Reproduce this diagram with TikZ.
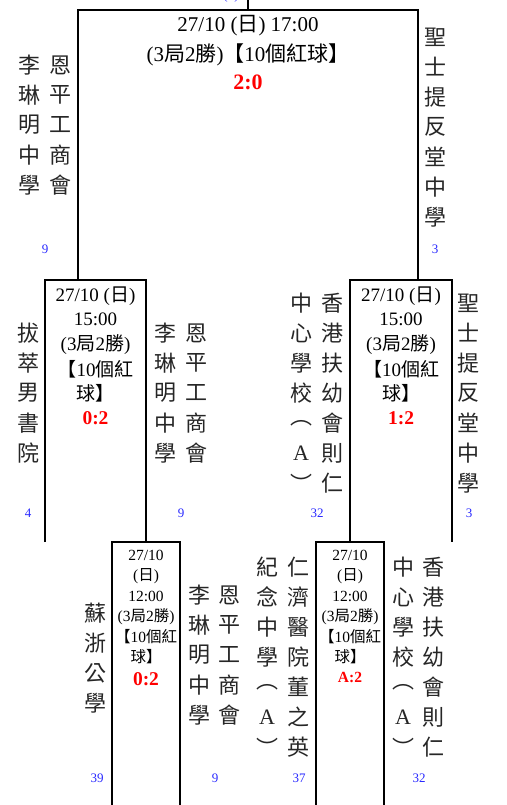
\documentclass[tikz,border=0pt]{standalone}
\usepackage{fontspec}
\setmainfont{Liberation Serif}
\newfontfamily\zh{Noto Sans CJK TC}
\definecolor{numblue}{RGB}{40,40,255}
\definecolor{scorered}{RGB}{255,0,0}
\tikzset{
  bline/.style={line width=2.2pt},
  vch/.style={inner sep=0pt, anchor=center, text=black!85, font=\zh\fontsize{22}{22}\selectfont},
  seed/.style={inner sep=0pt, anchor=center, text=numblue, font=\fontsize{13}{13}\selectfont},
  topinfo/.style={inner sep=0pt, anchor=base, font=\fontsize{21}{21}\selectfont},
  midinfo/.style={inner sep=0pt, anchor=base, font=\fontsize{19}{19}\selectfont},
  lowinfo/.style={inner sep=0pt, anchor=base, font=\fontsize{15.5}{15.5}\selectfont},
  topscore/.style={inner sep=0pt, anchor=base, text=scorered, font=\bfseries\fontsize{22}{22}\selectfont},
  midscore/.style={inner sep=0pt, anchor=base, text=scorered, font=\bfseries\fontsize{19.5}{19.5}\selectfont},
  lowscore/.style={inner sep=0pt, anchor=base, text=scorered, font=\bfseries\fontsize{19.5}{19.5}\selectfont},
  smallscore/.style={inner sep=0pt, anchor=base, text=scorered, font=\bfseries\fontsize{15.5}{15.5}\selectfont},
}
\newcommand\vtext[4]{%
  \foreach \ch [count=\i from 0] in {#4} {\node[vch] (#1-\i) at (#2,#3+30*\i) {\ch};}}
\begin{document}
\begin{tikzpicture}[x=1pt,y=-1pt]
\useasboundingbox (0,0) rectangle (506,805);
% bracket corners
\coordinate (f-stem) at (248,-3);
\coordinate (f-mid) at (248,10);
\coordinate (f-l) at (78,10);
\coordinate (f-r) at (418,10);
\coordinate (f-lb) at (78,280);
\coordinate (f-rb) at (418,280);
\coordinate (s1-l) at (45,280);
\coordinate (s1-r) at (146,280);
\coordinate (s1-lb) at (45,542);
\coordinate (s1-rb) at (146,542);
\coordinate (s2-l) at (350,280);
\coordinate (s2-r) at (452,280);
\coordinate (s2-lb) at (350,542);
\coordinate (s2-rb) at (452,542);
\coordinate (q1-l) at (112,542);
\coordinate (q1-r) at (180,542);
\coordinate (q1-lb) at (112,808);
\coordinate (q1-rb) at (180,808);
\coordinate (q2-l) at (316,542);
\coordinate (q2-r) at (384,542);
\coordinate (q2-lb) at (316,808);
\coordinate (q2-rb) at (384,808);
% bracket lines
\draw[bline] (f-mid) -- (f-stem);
\draw[bline] (f-lb) -- (f-l) -- (f-r) -- (f-rb);
\draw[bline] (s1-lb) -- (s1-l) -- (s1-r) -- (s1-rb);
\draw[bline] (s2-lb) -- (s2-l) -- (s2-r) -- (s2-rb);
\draw[bline] (q1-lb) -- (q1-l) -- (q1-r) -- (q1-rb);
\draw[bline] (q2-lb) -- (q2-l) -- (q2-r) -- (q2-rb);
% partially visible seed at top (cut off in the reference too)
\node[seed, anchor=base] (f-seed) at (231,0) {(1)};
% final box text
\node[topinfo] (f-date) at (248,32) {27/10 ({\zh 日}) 17:00};
\node[topinfo] (f-fmt) at (248,62) {(3{\zh 局}2{\zh 勝}){\zh 【}10{\zh 個紅球】}};
\node[topscore] (f-score) at (248,90) {2:0};
% semi-final left
\node[midinfo] (s1-date) at (95.5,301) {27/10 ({\zh 日})};
\node[midinfo] (s1-time) at (95.5,325) {15:00};
\node[midinfo] (s1-fmt) at (95.5,350) {(3{\zh 局}2{\zh 勝})};
\node[midinfo] (s1-ball) at (95.5,376) {{\zh 【}10{\zh 個紅}};
\node[midinfo] (s1-ball2) at (95.5,400) {{\zh 球】}};
\node[midscore] (s1-score) at (95.5,424) {0:2};
% semi-final right
\node[midinfo] (s2-date) at (401,301) {27/10 ({\zh 日})};
\node[midinfo] (s2-time) at (401,325) {15:00};
\node[midinfo] (s2-fmt) at (401,350) {(3{\zh 局}2{\zh 勝})};
\node[midinfo] (s2-ball) at (401,376) {{\zh 【}10{\zh 個紅}};
\node[midinfo] (s2-ball2) at (401,400) {{\zh 球】}};
\node[midscore] (s2-score) at (401,424) {1:2};
% quarter left
\node[lowinfo] (q1-date) at (146,560) {27/10};
\node[lowinfo] (q1-day) at (146,580.5) {({\zh 日})};
\node[lowinfo] (q1-time) at (146,601) {12:00};
\node[lowinfo] (q1-fmt) at (146,621.5) {(3{\zh 局}2{\zh 勝})};
\node[lowinfo] (q1-ball) at (146,642) {{\zh 【}10{\zh 個紅}};
\node[lowinfo] (q1-ball2) at (146,662.5) {{\zh 球】}};
\node[lowscore] (q1-score) at (146,685) {0:2};
% quarter right
\node[lowinfo] (q2-date) at (350,560) {27/10};
\node[lowinfo] (q2-day) at (350,580.5) {({\zh 日})};
\node[lowinfo] (q2-time) at (350,601) {12:00};
\node[lowinfo] (q2-fmt) at (350,621.5) {(3{\zh 局}2{\zh 勝})};
\node[lowinfo] (q2-ball) at (350,642) {{\zh 【}10{\zh 個紅}};
\node[lowinfo] (q2-ball2) at (350,662.5) {{\zh 球】}};
\node[smallscore] (q2-score) at (350,682) {A:2};
% team names (vertical)
\vtext{fa}{60}{65}{恩,平,工,商,會}
\vtext{fb}{29}{65}{李,琳,明,中,學}
\vtext{fc}{435}{37}{聖,士,提,反,堂,中,學}
\vtext{sa}{28}{333}{拔,萃,男,書,院}
\vtext{sb}{196}{333}{恩,平,工,商,會}
\vtext{sc}{165}{333}{李,琳,明,中,學}
\vtext{sd}{332}{303}{香,港,扶,幼,會,則,仁}
\vtext{se}{301}{303}{中,心,學,校,︵,{\rmfamily A},︶}
\vtext{sf}{468}{303}{聖,士,提,反,堂,中,學}
\vtext{qa}{95}{613}{蘇,浙,公,學}
\vtext{qb}{229}{595}{恩,平,工,商,會}
\vtext{qc}{199}{595}{李,琳,明,中,學}
\vtext{qd}{298}{567}{仁,濟,醫,院,董,之,英}
\vtext{qe}{267}{567}{紀,念,中,學,︵,{\rmfamily A},︶}
\vtext{qf}{433}{567}{香,港,扶,幼,會,則,仁}
\vtext{qg}{403}{567}{中,心,學,校,︵,{\rmfamily A},︶}
% seeds
\node[seed] (n-f1) at (45,249) {9};
\node[seed] (n-f2) at (435,249) {3};
\node[seed] (n-s1) at (28,513) {4};
\node[seed] (n-s2) at (181,513) {9};
\node[seed] (n-s3) at (317,513) {32};
\node[seed] (n-s4) at (469,513) {3};
\node[seed] (n-q1) at (97,778) {39};
\node[seed] (n-q2) at (215,778) {9};
\node[seed] (n-q3) at (299,778) {37};
\node[seed] (n-q4) at (419,778) {32};
\end{tikzpicture}
\end{document}
